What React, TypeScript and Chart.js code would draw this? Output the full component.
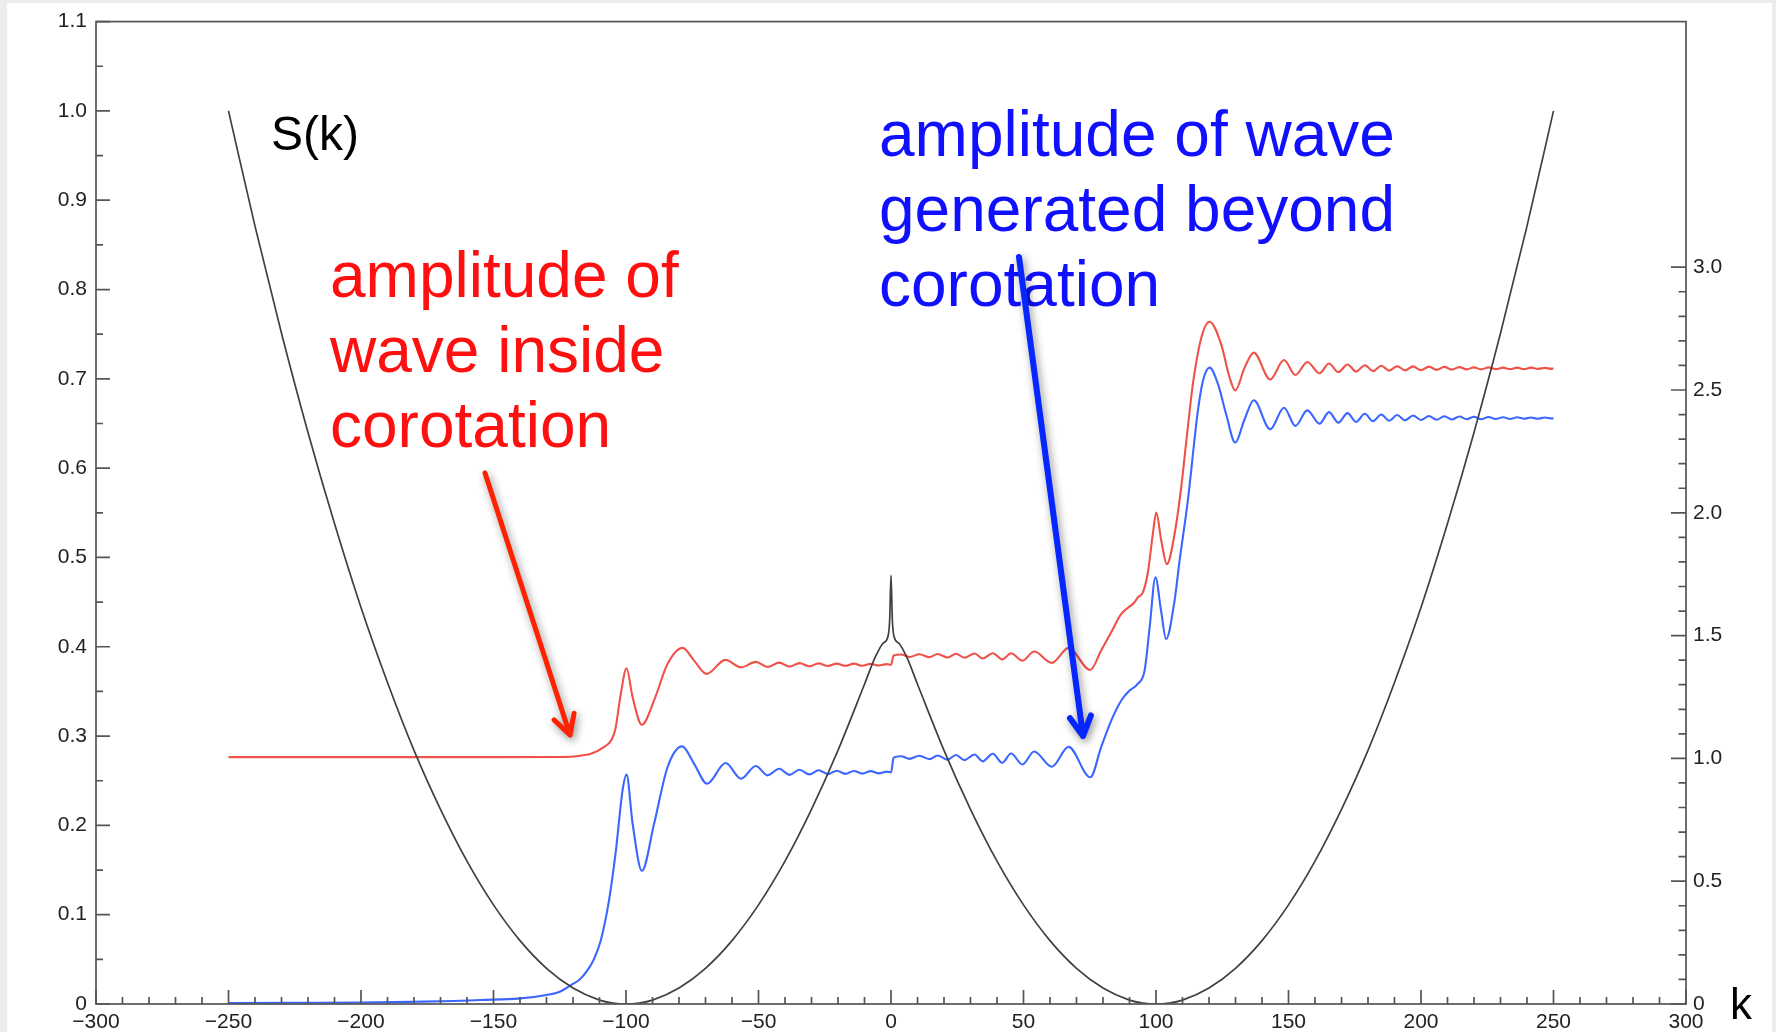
import React, { useEffect, useRef } from 'react';
import { Chart, registerables } from 'chart.js';

Chart.register(...registerables);

const W = 1776;
const H = 1032;
const FONT = '"Liberation Sans", Arial, Helvetica, sans-serif';

// ---- S(k) curve (left axis, 0..1.1) ----
const sK = [-250, -240, -230, -220, -210, -200, -190, -180, -170, -160, -150, -140, -130, -120, -110, -105, -100, -95, -90, -80, -70, -60, -50, -40, -30, -20, -10, -6, -3, -1.2, -0.5, 0, 0.5, 1.2, 3, 6, 10, 20, 30, 40, 50, 60, 70, 80, 90, 95, 100, 105, 110, 120, 130, 140, 150, 160, 170, 180, 190, 200, 210, 220, 230, 240, 250];
const sVal = [1.0, 0.871, 0.751, 0.64, 0.538, 0.444, 0.36, 0.284, 0.218, 0.16, 0.111, 0.071, 0.04, 0.018, 0.0044, 0.0011, 0, 0.0011, 0.0044, 0.018, 0.04, 0.071, 0.111, 0.16, 0.218, 0.284, 0.358, 0.388, 0.404, 0.411, 0.43, 0.48, 0.43, 0.411, 0.404, 0.388, 0.358, 0.284, 0.218, 0.16, 0.111, 0.071, 0.04, 0.018, 0.0044, 0.0011, 0, 0.0011, 0.0044, 0.018, 0.04, 0.071, 0.111, 0.16, 0.218, 0.284, 0.36, 0.444, 0.538, 0.64, 0.751, 0.871, 1.0];

// ---- amplitude of wave inside corotation (right axis) ----
const redK = [-250, -200, -150, -125, -118, -113, -108.5, -105.5, -104, -102, -99.8, -97.5, -94, -89.4, -84.3, -78.6, -74.3, -69.6, -62.5, -56.6, -51, -46.6, -42.2, -38.3, -34.5, -30.8, -27.3, -23.8, -20.5, -17.2, -14, -10.8, -7.7, -4.6, -1.6, 0, 1, 3.8, 7, 10.7, 14.5, 17.6, 21.4, 24.5, 27.7, 31.5, 34.6, 38.4, 42, 45.3, 49.6, 54, 60.7, 67, 75.2, 79.3, 83.1, 86.9, 91.9, 93.2, 95, 96.9, 98.8, 100.1, 102, 104.1, 107, 109.5, 112, 113.9, 117.1, 120.2, 124.6, 127.8, 129.9, 133.4, 136.9, 143.1, 148.3, 152.6, 157.1, 161.7, 165.3, 168.8, 172.3, 175.5, 178.8, 181.9, 185, 188, 191, 194, 197, 200, 203, 205.9, 208.8, 211.6, 214.5, 217.2, 220, 222.7, 225.5, 228.2, 231, 233.6, 236.3, 238.9, 241.5, 244.1, 246.7, 249.3, 250];
const redAmp = [1.005, 1.005, 1.005, 1.006, 1.01, 1.02, 1.045, 1.075, 1.12, 1.26, 1.367, 1.249, 1.137, 1.236, 1.385, 1.45, 1.398, 1.344, 1.401, 1.371, 1.393, 1.372, 1.39, 1.374, 1.388, 1.375, 1.387, 1.376, 1.386, 1.377, 1.386, 1.377, 1.385, 1.378, 1.384, 1.381, 1.419, 1.423, 1.413, 1.424, 1.412, 1.425, 1.411, 1.426, 1.41, 1.427, 1.407, 1.428, 1.403, 1.428, 1.398, 1.435, 1.389, 1.45, 1.36, 1.439, 1.514, 1.588, 1.636, 1.656, 1.675, 1.755, 1.913, 2.001, 1.886, 1.791, 1.913, 2.103, 2.347, 2.523, 2.713, 2.778, 2.686, 2.55, 2.498, 2.59, 2.652, 2.543, 2.622, 2.561, 2.614, 2.568, 2.608, 2.573, 2.604, 2.575, 2.601, 2.577, 2.599, 2.579, 2.597, 2.58, 2.596, 2.581, 2.595, 2.582, 2.594, 2.583, 2.593, 2.584, 2.592, 2.584, 2.592, 2.585, 2.591, 2.585, 2.591, 2.585, 2.591, 2.586, 2.59, 2.586, 2.588];

// ---- amplitude of wave generated beyond corotation (right axis) ----
const blueK = [-250, -225, -200, -180, -165, -155, -140, -130, -125, -120.8, -117.5, -114.5, -112, -109.5, -106.4, -103.8, -101.3, -99.8, -97.5, -94, -89.4, -84.3, -78.8, -74.3, -69.4, -62.4, -56.6, -51, -46.6, -42.2, -38.3, -34.5, -30.8, -27.3, -23.8, -20.5, -17.2, -14, -10.8, -7.7, -4.6, -1.6, 0, 1, 3.8, 7, 10.7, 14.5, 17.6, 21.4, 24.5, 27.7, 31.5, 34.6, 38.4, 42, 45.3, 49.6, 54, 60.7, 67, 75.2, 79.3, 83.1, 86.9, 90, 93.1, 95.7, 97.6, 99.8, 101.9, 103.8, 107, 108.9, 112, 115.8, 117.7, 120.2, 123.4, 126.5, 129.9, 133.4, 136.9, 143.1, 148.3, 152.6, 157.1, 161.7, 165.3, 168.8, 172.3, 175.5, 178.8, 181.9, 185, 188, 191, 194, 197, 200, 203, 205.9, 208.8, 211.6, 214.5, 217.2, 220, 222.7, 225.5, 228.2, 231, 233.6, 236.3, 238.9, 241.5, 244.1, 246.7, 249.3, 250];
const blueAmp = [0.004, 0.005, 0.006, 0.009, 0.012, 0.016, 0.023, 0.037, 0.05, 0.077, 0.1, 0.138, 0.185, 0.26, 0.423, 0.626, 0.87, 0.934, 0.734, 0.542, 0.734, 0.965, 1.049, 0.978, 0.897, 0.981, 0.917, 0.969, 0.931, 0.958, 0.933, 0.954, 0.935, 0.952, 0.936, 0.95, 0.937, 0.949, 0.938, 0.948, 0.939, 0.946, 0.943, 1.003, 1.009, 0.998, 1.011, 0.997, 1.012, 0.995, 1.014, 0.993, 1.016, 0.988, 1.019, 0.982, 1.02, 0.975, 1.028, 0.966, 1.047, 0.923, 1.046, 1.154, 1.236, 1.276, 1.303, 1.358, 1.533, 1.737, 1.602, 1.486, 1.642, 1.805, 2.049, 2.415, 2.537, 2.591, 2.524, 2.4, 2.286, 2.38, 2.458, 2.34, 2.428, 2.354, 2.417, 2.363, 2.41, 2.367, 2.406, 2.37, 2.403, 2.373, 2.4, 2.375, 2.398, 2.377, 2.396, 2.378, 2.394, 2.379, 2.393, 2.38, 2.392, 2.381, 2.391, 2.381, 2.39, 2.382, 2.389, 2.382, 2.389, 2.383, 2.388, 2.383, 2.388, 2.384, 2.385];

// ---- tick values / labels ----
const rightTickValues = [0, 0.5, 1.0, 1.5, 2.0, 2.5, 3.0];
const redLabel = ['amplitude of', 'wave inside', 'corotation'];
const blueLabel = ['amplitude of wave', 'generated beyond', 'corotation'];

function drawArrow(ctx: CanvasRenderingContext2D, x0: number, y0: number, x1: number, y1: number, color: string, width: number) {
  const ang = Math.atan2(y1 - y0, x1 - x0);
  const head = 22;
  const spread = 0.5;
  ctx.save();
  ctx.strokeStyle = color;
  ctx.lineWidth = width;
  ctx.lineCap = 'round';
  ctx.lineJoin = 'round';
  ctx.shadowColor = 'rgba(0,0,0,0.45)';
  ctx.shadowBlur = 8;
  ctx.shadowOffsetX = 2;
  ctx.shadowOffsetY = 3;
  ctx.beginPath();
  ctx.moveTo(x0, y0);
  ctx.lineTo(x1, y1);
  ctx.moveTo(x1 - head * Math.cos(ang - spread), y1 - head * Math.sin(ang - spread));
  ctx.lineTo(x1, y1);
  ctx.lineTo(x1 - head * Math.cos(ang + spread), y1 - head * Math.sin(ang + spread));
  ctx.stroke();
  ctx.restore();
}

const framePlugin = {
  id: 'rootFrame',
  beforeDraw(chart: any) {
    const ctx = chart.ctx as CanvasRenderingContext2D;
    ctx.save();
    ctx.fillStyle = '#ececec';
    ctx.fillRect(0, 0, W, H);
    ctx.fillStyle = '#ffffff';
    ctx.fillRect(7, 3, 1765, H - 3);
    ctx.restore();
  },
  afterDraw(chart: any) {
    const ctx = chart.ctx as CanvasRenderingContext2D;
    const a = chart.chartArea;
    const sx = chart.scales.x;
    const sy = chart.scales.y;
    const sy2 = chart.scales.y2;
    ctx.save();
    ctx.strokeStyle = '#555555';
    ctx.lineWidth = 1.7;
    ctx.strokeRect(a.left, a.top, a.right - a.left, a.bottom - a.top);
    ctx.beginPath();
    for (let i = 0; i <= 60; i++) {
      const v = -300 + i * 10;
      const px = sx.getPixelForValue(v);
      const len = i % 5 === 0 ? 14 : 7;
      ctx.moveTo(px, a.bottom);
      ctx.lineTo(px, a.bottom - len);
    }
    for (let i = 0; i <= 22; i++) {
      const v = i * 0.05;
      const py = sy.getPixelForValue(v);
      const len = i % 2 === 0 ? 14 : 7;
      ctx.moveTo(a.left, py);
      ctx.lineTo(a.left + len, py);
    }
    for (let i = 0; i <= 30; i++) {
      const v = i * 0.1;
      const py = sy2.getPixelForValue(v);
      const len = i % 5 === 0 ? 15 : 7.5;
      ctx.moveTo(a.right, py);
      ctx.lineTo(a.right - len, py);
    }
    ctx.stroke();

    ctx.fillStyle = '#000000';
    ctx.font = `44px ${FONT}`;
    ctx.textBaseline = 'alphabetic';
    ctx.textAlign = 'left';
    ctx.fillText('k', 1730, 1019);

    ctx.font = `48px ${FONT}`;
    ctx.fillText('S(k)', 271, 150);

    ctx.font = `64px ${FONT}`;
    ctx.fillStyle = '#ff1010';
    const redBase = [297, 372, 447];
    redLabel.forEach((t, i) => ctx.fillText(t, 330, redBase[i]));
    ctx.fillStyle = '#1010ff';
    const blueBase = [156, 231, 306];
    blueLabel.forEach((t, i) => ctx.fillText(t, 879, blueBase[i]));
    ctx.restore();

    drawArrow(ctx, 485, 473, 570, 735, '#ff2200', 5);
    drawArrow(ctx, 1019, 257, 1083, 736, '#0626ff', 6);
  },
};

export default function App() {
  const ref = useRef<HTMLCanvasElement | null>(null);
  useEffect(() => {
    if (!ref.current) return;
    const tickFont = { size: 21, family: FONT };
    const chart = new Chart(ref.current, {
      type: 'line',
      data: {
        datasets: [
          {
            label: 'S(k)',
            data: sK.map((k, i) => ({ x: k, y: sVal[i] })),
            yAxisID: 'y',
            borderColor: '#404040',
            borderWidth: 1.7,
            pointRadius: 0,
            cubicInterpolationMode: 'monotone',
          },
          {
            label: 'amplitude of wave inside corotation',
            data: redK.map((k, i) => ({ x: k, y: redAmp[i] })),
            yAxisID: 'y2',
            borderColor: '#ee5248',
            borderWidth: 2.1,
            pointRadius: 0,
            cubicInterpolationMode: 'monotone',
          },
          {
            label: 'amplitude of wave generated beyond corotation',
            data: blueK.map((k, i) => ({ x: k, y: blueAmp[i] })),
            yAxisID: 'y2',
            borderColor: '#3b66ff',
            borderWidth: 2.1,
            pointRadius: 0,
            cubicInterpolationMode: 'monotone',
          },
        ],
      },
      options: {
        animation: false,
        responsive: false,
        maintainAspectRatio: false,
        devicePixelRatio: 1,
        events: [],
        layout: { padding: { top: 20, left: 0, right: 0, bottom: 0 } },
        plugins: { legend: { display: false }, tooltip: { enabled: false } },
        scales: {
          x: {
            type: 'linear',
            min: -300,
            max: 300,
            grid: { display: false, drawTicks: false },
            border: { display: false },
            afterFit: (s: any) => { s.height = 28; },
            ticks: {
              stepSize: 50,
              autoSkip: false,
              maxRotation: 0,
              padding: 6,
              color: '#222222',
              font: tickFont,
              callback: (v: any) => (Number(v) < 0 ? '\u2212' + Math.abs(Number(v)) : String(v)),
            },
          },
          y: {
            type: 'linear',
            position: 'left',
            min: 0,
            max: 1.1,
            grid: { display: false, drawTicks: false },
            border: { display: false },
            afterFit: (s: any) => { s.width = 96; },
            ticks: {
              stepSize: 0.1,
              padding: 9,
              color: '#222222',
              font: tickFont,
              callback: (v: any) => (Math.abs(Number(v)) < 1e-9 ? '0' : Number(v).toFixed(1)),
            },
          },
          y2: {
            type: 'linear',
            position: 'right',
            min: 0,
            max: 4.0,
            grid: { display: false, drawTicks: false },
            border: { display: false },
            afterFit: (s: any) => { s.width = 90; },
            afterBuildTicks: (s: any) => { s.ticks = rightTickValues.map((v) => ({ value: v })); },
            ticks: {
              padding: 7,
              color: '#222222',
              font: tickFont,
              callback: (v: any) => (Math.abs(Number(v)) < 1e-9 ? '0' : Number(v).toFixed(1)),
            },
          },
        },
      },
      plugins: [framePlugin],
    } as any);
    return () => chart.destroy();
  }, []);
  return (
    <div style={{ position: 'absolute', left: 0, top: 0, width: W, height: H }}>
      <canvas ref={ref} width={W} height={H} style={{ display: 'block' }} />
    </div>
  );
}
